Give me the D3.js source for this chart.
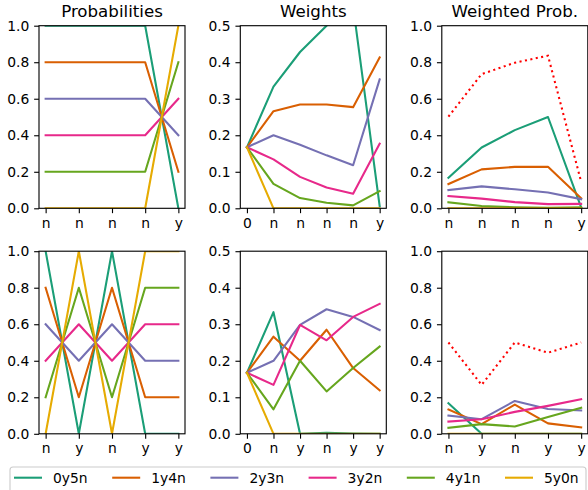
<!DOCTYPE html>
<html>
<head>
<meta charset="utf-8">
<script src="https://cdn.jsdelivr.net/npm/d3@7"></script>
<style>
	body { margin: 0; background: #fff; }
	svg { display: block; font-family: "DejaVu Sans", sans-serif; }
</style>
</head>
<body>
<svg id="chart" width="588" height="490"></svg>
<script>
// hypotheses (legend order) and their colours
var hypotheses = ['0y5n', '1y4n', '2y3n', '3y2n', '4y1n', '5y0n'];
var colors = ['#1b9e77', '#d95f02', '#7570b3', '#e7298a', '#66a61e', '#e6ab02'];

// observed sequences, one per row
var seqTop = ['n', 'n', 'n', 'n', 'y'];
var seqBottom = ['n', 'y', 'n', 'y', 'y'];

// probability of each observation under each hypothesis
var probTop = [
	[1, 1, 1, 1, 0],
	[0.8, 0.8, 0.8, 0.8, 0.2],
	[0.6, 0.6, 0.6, 0.6, 0.4],
	[0.4, 0.4, 0.4, 0.4, 0.6],
	[0.2, 0.2, 0.2, 0.2, 0.8],
	[0, 0, 0, 0, 1]
];
var probBottom = [
	[1, 0, 1, 0, 0],
	[0.8, 0.2, 0.8, 0.2, 0.2],
	[0.6, 0.4, 0.6, 0.4, 0.4],
	[0.4, 0.6, 0.4, 0.6, 0.6],
	[0.2, 0.8, 0.2, 0.8, 0.8],
	[0, 1, 0, 1, 1]
];

// weights, starting from the prior ("0")
var weightsTop = [
	[0.167, 0.333, 0.428, 0.5, 0.553, 0.006],
	[0.167, 0.266, 0.284, 0.284, 0.277, 0.413],
	[0.167, 0.2, 0.174, 0.145, 0.118, 0.353],
	[0.167, 0.134, 0.086, 0.057, 0.04, 0.177],
	[0.167, 0.067, 0.028, 0.015, 0.008, 0.047],
	[0.167, 0, 0, 0, 0, 0]
];
var weightsBottom = [
	[0.167, 0.333, 0, 0.003, 0.001, 0],
	[0.167, 0.266, 0.2, 0.285, 0.18, 0.119],
	[0.167, 0.2, 0.298, 0.341, 0.32, 0.284],
	[0.167, 0.134, 0.298, 0.256, 0.32, 0.356],
	[0.167, 0.067, 0.2, 0.116, 0.18, 0.239],
	[0.167, 0, 0, 0, 0, 0]
];

// weighted probabilities and their sum (dotted red)
var weightedTop = [
	[0.167, 0.333, 0.428, 0.5, 0.005],
	[0.133, 0.213, 0.227, 0.227, 0.055],
	[0.1, 0.12, 0.104, 0.087, 0.05],
	[0.067, 0.053, 0.034, 0.023, 0.024],
	[0.033, 0.013, 0.006, 0.003, 0.006],
	[0, 0, 0, 0, 0]
];
var totalTop = [0.502, 0.735, 0.797, 0.836, 0.145];
var weightedBottom = [
	[0.167, 0, 0, 0, 0],
	[0.133, 0.053, 0.16, 0.057, 0.035],
	[0.1, 0.08, 0.18, 0.136, 0.128],
	[0.067, 0.08, 0.12, 0.153, 0.19],
	[0.033, 0.053, 0.04, 0.092, 0.143],
	[0, 0, 0, 0, 0]
];
var totalBottom = [0.5, 0.268, 0.5, 0.444, 0.5];

var pt = 100 / 72;
var colLeft = [39, 240.3, 441.8];
var colWidth = 146;
var rowTop = [25.7, 251.2];
var rowHeight = 182.6;

var panels = [
	{row: 0, col: 0, title: 'Probabilities', labels: seqTop, series: probTop, yMax: 1},
	{row: 0, col: 1, title: 'Weights', labels: ['0'].concat(seqTop), series: weightsTop, yMax: 0.5},
	{row: 0, col: 2, title: 'Weighted Prob.', labels: seqTop, series: weightedTop, total: totalTop, yMax: 1},
	{row: 1, col: 0, labels: seqBottom, series: probBottom, yMax: 1},
	{row: 1, col: 1, labels: ['0'].concat(seqBottom), series: weightsBottom, yMax: 0.5},
	{row: 1, col: 2, labels: seqBottom, series: weightedBottom, total: totalBottom, yMax: 1}
];

var svg = d3.select('#chart');
var defs = svg.append('defs');

function drawPanel(p, idx) {
	var left = colLeft[p.col], top = rowTop[p.row];
	var n = p.labels.length;
	var pad = (n - 1) * 0.05;

	var x = d3.scaleLinear()
		.domain([-pad, n - 1 + pad])
		.range([left, left + colWidth]);
	var y = d3.scaleLinear()
		.domain([0, p.yMax])
		.range([top + rowHeight, top]);

	defs.append('clipPath')
		.attr('id', 'clip' + idx)
		.append('rect')
		.attr('x', left)
		.attr('y', top)
		.attr('width', colWidth)
		.attr('height', rowHeight);

	var g = svg.append('g').attr('class', 'panel');

	var line = d3.line()
		.x(function(d, i) { return x(i); })
		.y(function(d) { return y(d); });

	// the series
	var lines = g.append('g').attr('clip-path', 'url(#clip' + idx + ')');
	lines.selectAll('path.series')
		.data(p.series)
		.enter()
		.append('path')
		.attr('class', 'series')
		.attr('d', line)
		.attr('fill', 'none')
		.attr('stroke', function(d, i) { return colors[i]; })
		.attr('stroke-width', 1.5 * pt)
		.attr('stroke-linejoin', 'round')
		.attr('stroke-linecap', 'square');

	if(p.total) {
		lines.append('path')
			.datum(p.total)
			.attr('d', line)
			.attr('fill', 'none')
			.attr('stroke', '#ff0000')
			.attr('stroke-width', 1.5 * pt)
			.attr('stroke-dasharray', (1.5 * pt) + ',' + (2.475 * pt));
	}

	// axes
	var xAxis = d3.axisBottom(x)
		.tickValues(d3.range(n))
		.tickFormat(function(d) { return p.labels[d]; })
		.tickSize(3.5 * pt)
		.tickPadding(3.5 * pt);
	var yAxis = d3.axisLeft(y)
		.ticks(5)
		.tickFormat(d3.format('.1f'))
		.tickSize(3.5 * pt)
		.tickPadding(3.5 * pt);

	g.append('g')
		.attr('transform', 'translate(0,' + (top + rowHeight) + ')')
		.call(xAxis);
	g.append('g')
		.attr('transform', 'translate(' + left + ',0)')
		.call(yAxis);

	g.selectAll('.domain').remove();
	g.selectAll('.tick line').attr('stroke', '#000').attr('stroke-width', 0.8 * pt);
	g.selectAll('.tick text')
		.attr('fill', '#000')
		.style('font-family', '"DejaVu Sans", sans-serif')
		.style('font-size', (10 * pt) + 'px');

	// frame
	g.append('rect')
		.attr('x', left)
		.attr('y', top)
		.attr('width', colWidth)
		.attr('height', rowHeight)
		.attr('fill', 'none')
		.attr('stroke', '#000')
		.attr('stroke-width', 0.8 * pt);

	if(p.title) {
		g.append('text')
			.attr('x', left + colWidth / 2)
			.attr('y', top - 6 * pt)
			.attr('text-anchor', 'middle')
			.style('font-size', (12 * pt) + 'px')
			.text(p.title);
	}
}

panels.forEach(drawPanel);

// ===========================================================================================
// legend along the bottom
var legend = svg.append('g').attr('class', 'legend');
legend.append('rect')
	.attr('x', 10)
	.attr('y', 467)
	.attr('width', 576)
	.attr('height', 40)
	.attr('rx', 3)
	.attr('fill', '#fff')
	.attr('fill-opacity', 0.8)
	.attr('stroke', '#cccccc')
	.attr('stroke-width', 0.8 * pt);

var item = legend.selectAll('.legend-item')
	.data(hypotheses)
	.enter()
	.append('g')
	.attr('class', 'legend-item')
	.attr('transform', function(d, i) {
		return 'translate(' + (14 + i * 98.2) + ', 477.7)';
	});

item.append('line')
	.attr('x1', 0)
	.attr('x2', 28)
	.attr('stroke', function(d, i) { return colors[i]; })
	.attr('stroke-width', 1.5 * pt);

item.append('text')
	.attr('x', 39)
	.attr('dy', '0.36em')
	.style('font-size', (10 * pt) + 'px')
	.text(function(d) { return d; });
</script>
</body>
</html>
